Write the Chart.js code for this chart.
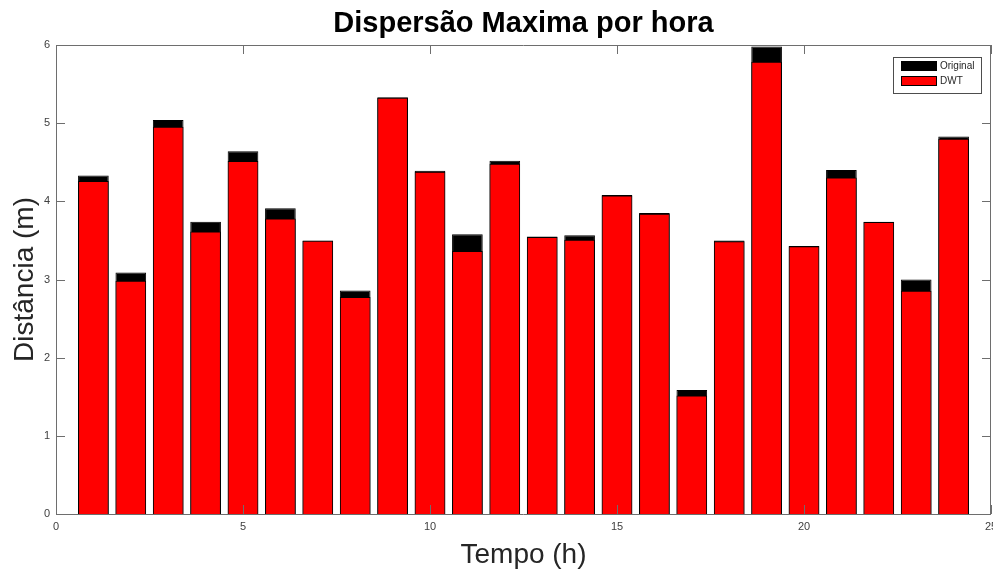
<!DOCTYPE html>
<html>
<head>
<meta charset="utf-8">
<script src="https://cdn.jsdelivr.net/npm/chart.js@4.4.1/dist/chart.umd.min.js"></script>
<style>
  html, body { margin: 0; padding: 0; background: #ffffff; }
  #wrap { width: 993px; height: 574px; position: relative; }
</style>
</head>
<body>
<div id="wrap"><canvas id="c" width="993" height="574"></canvas></div>
<script>
// Hourly maximum dispersion (m), original signal vs. DWT-filtered
const hours = [1, 2, 3, 4, 5, 6, 7, 8, 9, 10, 11, 12, 13, 14, 15, 16, 17, 18, 19, 20, 21, 22, 23, 24];
const original = [4.33, 3.09, 5.04, 3.74, 4.64, 3.91, 3.50, 2.86, 5.33, 4.39, 3.58, 4.52,
                  3.55, 3.565, 4.08, 3.85, 1.585, 3.50, 5.98, 3.43, 4.40, 3.74, 3.00, 4.83];
const dwt = [4.26, 2.985, 4.955, 3.615, 4.515, 3.78, 3.495, 2.775, 5.325, 4.38, 3.365, 4.48,
             3.545, 3.51, 4.075, 3.84, 1.515, 3.49, 5.785, 3.425, 4.305, 3.735, 2.855, 4.80];
const xTicks = [0, 5, 10, 15, 20, 25];
const yTicks = [0, 1, 2, 3, 4, 5, 6];
const seriesNames = ['Original', 'DWT'];
const titleText = 'Dispersão Maxima por hora';
const xTitle = 'Tempo (h)';
const yTitle = 'Distância (m)';

const FONT = '"Liberation Sans", Arial, Helvetica, sans-serif';
const AXIS_COLOR = '#6e6e6e';
const TEXT_COLOR = '#262626';

// Box axes, inward ticks, tick labels, titles and legend (MATLAB-like frame)
const framePlugin = {
  id: 'frame',
  afterDatasetsDraw(chart) {
    const { ctx, chartArea: a, scales: { x, y } } = chart;
    ctx.save();
    ctx.strokeStyle = AXIS_COLOR;
    ctx.lineWidth = 1;
    ctx.beginPath();
    ctx.rect(Math.round(a.left) + 0.5, Math.round(a.top) + 0.5,
             Math.round(a.right - a.left) - 1, Math.round(a.bottom - a.top));
    ctx.stroke();

    const tl = 9;
    ctx.beginPath();
    xTicks.forEach(v => {
      const px = Math.round(x.getPixelForValue(v)) + 0.5;
      ctx.moveTo(px, a.bottom); ctx.lineTo(px, a.bottom - tl);
      ctx.moveTo(px, a.top); ctx.lineTo(px, a.top + tl);
    });
    yTicks.forEach(v => {
      const py = Math.round(y.getPixelForValue(v)) + 0.5;
      ctx.moveTo(a.left, py); ctx.lineTo(a.left + tl, py);
      ctx.moveTo(a.right, py); ctx.lineTo(a.right - tl, py);
    });
    ctx.stroke();

    // tick labels
    ctx.fillStyle = '#404040';
    ctx.font = '11px ' + FONT;
    ctx.textAlign = 'center';
    ctx.textBaseline = 'middle';
    xTicks.forEach(v => {
      ctx.fillText(String(v), x.getPixelForValue(v), a.bottom + 13);
    });
    ctx.textAlign = 'right';
    yTicks.forEach(v => {
      ctx.fillText(String(v), a.left - 6, y.getPixelForValue(v));
    });

    // title
    ctx.fillStyle = '#000000';
    ctx.font = 'bold 29px ' + FONT;
    ctx.textAlign = 'center';
    ctx.textBaseline = 'alphabetic';
    ctx.fillText(titleText, (a.left + a.right) / 2, 32);

    // axis titles
    ctx.fillStyle = TEXT_COLOR;
    ctx.font = '28px ' + FONT;
    ctx.fillText(xTitle, (a.left + a.right) / 2, 563);
    ctx.save();
    ctx.translate(33, (a.top + a.bottom) / 2);
    ctx.rotate(-Math.PI / 2);
    ctx.fillText(yTitle, 0, 0);
    ctx.restore();

    // legend, upper right inside the axes
    const lx = a.right - 98, ly = a.top + 12, lw = 88, lh = 36;
    ctx.fillStyle = '#ffffff';
    ctx.fillRect(lx, ly, lw, lh);
    ctx.strokeStyle = '#4d4d4d';
    ctx.lineWidth = 1;
    ctx.strokeRect(lx + 0.5, ly + 0.5, lw, lh);
    const colors = ['#000000', '#ff0000'];
    ctx.font = '10px ' + FONT;
    ctx.textAlign = 'left';
    ctx.textBaseline = 'middle';
    seriesNames.forEach((name, i) => {
      const sy = ly + 4 + i * 15;
      ctx.fillStyle = colors[i];
      ctx.fillRect(lx + 8, sy, 36, 10);
      ctx.strokeStyle = '#000000';
      ctx.strokeRect(lx + 8.5, sy + 0.5, 35, 9);
      ctx.fillStyle = TEXT_COLOR;
      ctx.fillText(name, lx + 47, sy + 5.5);
    });
    ctx.restore();
  }
};

new Chart(document.getElementById('c'), {
  type: 'bar',
  data: {
    labels: hours,
    datasets: [
      {
        label: seriesNames[0],
        data: hours.map((h, i) => ({ x: h, y: original[i] })),
        backgroundColor: '#000000',
        borderColor: '#000000',
        borderWidth: 1,
        order: 1
      },
      {
        label: seriesNames[1],
        data: hours.map((h, i) => ({ x: h, y: dwt[i] })),
        backgroundColor: '#ff0000',
        borderColor: '#000000',
        borderWidth: 1,
        order: 0
      }
    ]
  },
  options: {
    responsive: false,
    animation: false,
    devicePixelRatio: 1,
    grouped: false,
    categoryPercentage: 1,
    barPercentage: 0.82,
    layout: { padding: { left: 56, right: 2, top: 45, bottom: 60 } },
    plugins: {
      legend: { display: false },
      title: { display: false },
      tooltip: { enabled: false }
    },
    scales: {
      x: { type: 'linear', min: 0, max: 25, display: false, offset: false },
      y: { type: 'linear', min: 0, max: 6, display: false }
    }
  },
  plugins: [framePlugin]
});
</script>
</body>
</html>
